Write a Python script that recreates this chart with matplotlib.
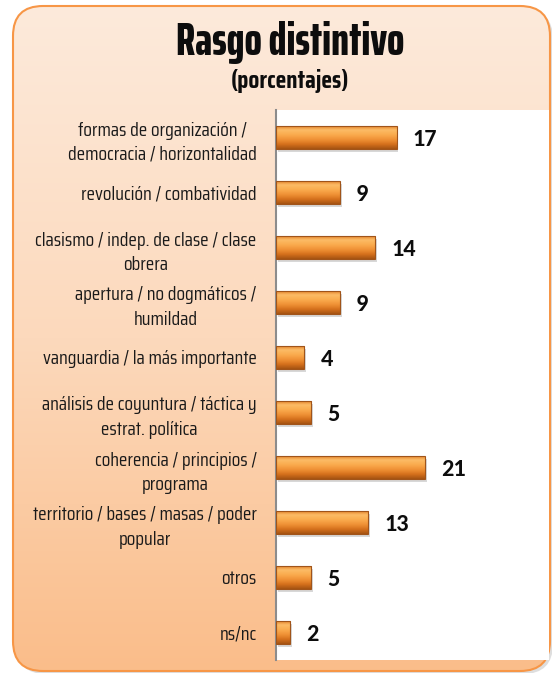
import numpy as np
import matplotlib
matplotlib.use("Agg")
import matplotlib.pyplot as plt
from matplotlib.colors import LinearSegmentedColormap
from matplotlib.patches import FancyBboxPatch

categories = [
    "formas de organización /\ndemocracia / horizontalidad",
    "revolución / combatividad",
    "clasismo / indep. de clase / clase\nobrera",
    "apertura / no dogmáticos /\nhumildad",
    "vanguardia / la más importante",
    "análisis de coyuntura / táctica y\nestrat. política",
    "coherencia / principios /\nprograma",
    "territorio / bases / masas / poder\npopular",
    "otros",
    "ns/nc",
]
values = [17, 9, 14, 9, 4, 5, 21, 13, 5, 2]

title = "Rasgo distintivo"
subtitle = "(porcentajes)"

narrow = ["Saira ExtraCondensed", "DejaVu Sans"]
cond = ["Saira Condensed", "DejaVu Sans"]
W, H = 552, 673

fig = plt.figure(figsize=(W / 100, H / 100), dpi=100)

# background panel (pixel coords, y down)
bg = fig.add_axes([0, 0, 1, 1])
bg.set_xlim(0, W)
bg.set_ylim(H, 0)
bg.axis("off")

shadow = FancyBboxPatch((16, 9), 537, 665, boxstyle="round,pad=0,rounding_size=30",
                        facecolor="#bfbfbf", edgecolor="none", alpha=0.5)
bg.add_patch(shadow)
panel = FancyBboxPatch((13, 6), 537, 665, boxstyle="round,pad=0,rounding_size=30",
                       facecolor="none", edgecolor="#f79646", linewidth=1.5, zorder=3)
bg.add_patch(panel)
panel_cmap = LinearSegmentedColormap.from_list("panel", ["#fdeadb", "#fcd9bc", "#fabd8a"])
grad = np.linspace(0, 1, 256).reshape(-1, 1)
im = bg.imshow(grad, cmap=panel_cmap, extent=[13, 550, 671, 6], aspect="auto", zorder=1)
im.set_clip_path(panel)

bg.text(290, 42, title, ha="center", va="center", fontsize=33, fontweight=800,
        family=narrow, color="#0d0d0d")
bg.text(290, 81, subtitle, ha="center", va="center", fontsize=18, fontweight=700,
        family=cond, color="#0d0d0d")

# plot area
ax = fig.add_axes([276 / W, (H - 660) / H, (549 - 276) / W, (660 - 110) / H])
ax.set_facecolor("white")
y = np.arange(len(categories))

bar_cmap = LinearSegmentedColormap.from_list(
    "bar", ["#e07a22", "#fcbc66", "#faab4e", "#f09236", "#d6711d", "#a55312"])
gbar = np.linspace(0, 1, 64).reshape(-1, 1)

shadows = ax.barh(y + 0.06, values, height=0.42, left=0.25, color="#7f7f7f",
                  alpha=0.3, zorder=1)
bars = ax.barh(y, values, height=0.42, color="none", edgecolor="#a0541a",
               linewidth=0.8, zorder=3)
for b in bars:
    x0, y0 = b.get_x(), b.get_y()
    img = ax.imshow(gbar, cmap=bar_cmap, aspect="auto", zorder=2,
                    extent=[x0, x0 + b.get_width(), y0 + b.get_height(), y0])
    img.set_clip_path(b)

for yi, v in zip(y, values):
    ax.text(v + 2.3, yi + 0.03, str(v), ha="left", va="center", fontsize=17.5,
            fontweight="bold", family=["Carlito", "DejaVu Sans"], color="#0d0d0d")

ax.set_xlim(0, 38.5)
ax.set_ylim(len(categories) - 0.5, -0.5)
ax.set_yticks(y)
ax.set_yticklabels(categories, fontsize=14, family=cond, color="#1a1a1a",
                   multialignment="center", linespacing=1.45)
ax.tick_params(axis="y", length=0, pad=14)
ax.set_xticks([])
for s in ["top", "right", "bottom"]:
    ax.spines[s].set_visible(False)
ax.spines["left"].set_color("#8c8c8c")
ax.spines["left"].set_linewidth(1.5)

fig.savefig("out.png", dpi=100)
